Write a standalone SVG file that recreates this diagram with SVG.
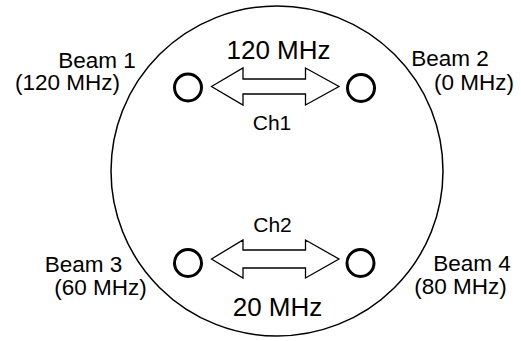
<svg xmlns="http://www.w3.org/2000/svg" width="521" height="341" viewBox="0 0 521 341">
<style>
.lbl{font-family:"Liberation Sans",Arial,sans-serif;font-size:22.5px;fill:#000;text-anchor:middle}
.ch{font-family:"Liberation Sans",Arial,sans-serif;font-size:21px;fill:#000;text-anchor:middle}
.big{font-family:"Liberation Sans",Arial,sans-serif;font-size:26px;fill:#000;text-anchor:middle}
.beam{fill:none;stroke:#000;stroke-width:3}
.arr{fill:#fff;stroke:#000;stroke-width:1.3;stroke-linejoin:miter}
</style>
<rect width="521" height="341" fill="#fff"/>
<ellipse id="aperture" cx="277" cy="171" rx="166" ry="165" fill="none" stroke="#000" stroke-width="1.5"/>
<g id="beam1">
<circle class="beam" cx="188" cy="87.5" r="13.5"/>
<text class="lbl" x="97" y="68">Beam 1</text>
<text class="lbl" x="67.5" y="90">(120 MHz)</text>
</g>
<g id="beam2">
<circle class="beam" cx="361" cy="88" r="13.5"/>
<text class="lbl" x="450" y="66">Beam 2</text>
<text class="lbl" x="474" y="90">(0 MHz)</text>
</g>
<g id="beam3">
<circle class="beam" cx="188" cy="263" r="13.5"/>
<text class="lbl" x="83.5" y="272">Beam 3</text>
<text class="lbl" x="100.5" y="295">(60 MHz)</text>
</g>
<g id="beam4">
<circle class="beam" cx="360.5" cy="263" r="13.5"/>
<text class="lbl" x="472" y="271">Beam 4</text>
<text class="lbl" x="460.5" y="294">(80 MHz)</text>
</g>
<g id="connectors">
<g id="ch1">
<polygon class="arr" points="211.5,86.5 243,68 243,79 305.5,79 305.5,68 339,86.5 305.5,105 305.5,94 243,94 243,105"/>
<text class="big" x="278.5" y="59">120 MHz</text>
<text class="ch" x="272" y="130">Ch1</text>
</g>
<g id="ch2">
<polygon class="arr" points="211.5,259 243,240 243,250 305.5,250 305.5,240 339,259 305.5,278 305.5,268 243,268 243,278"/>
<text class="ch" x="272.5" y="231.5">Ch2</text>
<text class="big" x="277.5" y="316">20 MHz</text>
</g>
</g>
</svg>
